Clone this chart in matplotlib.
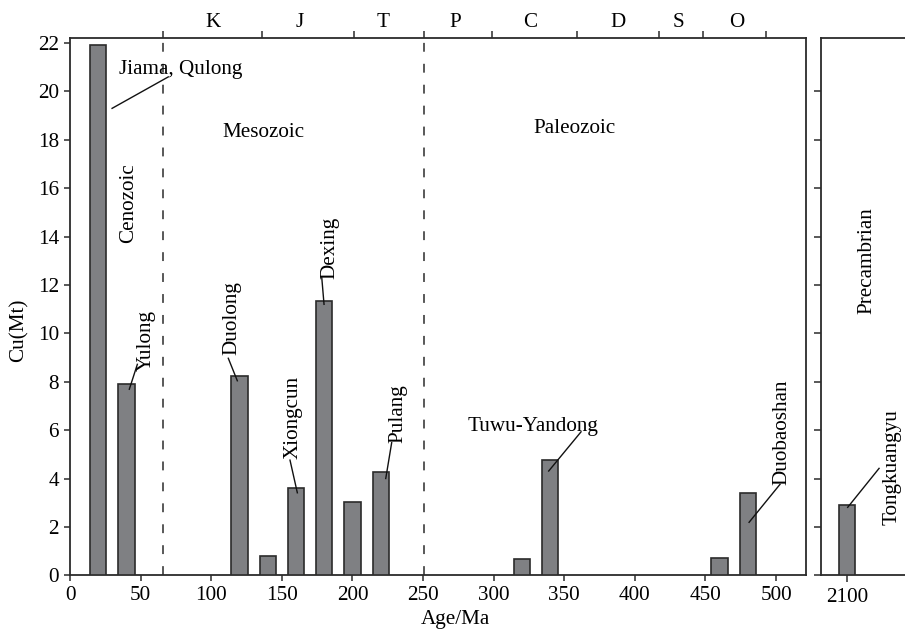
import matplotlib

matplotlib.use("Agg")
import matplotlib.pyplot as plt

plt.rcParams["font.family"] = ["Liberation Serif", "DejaVu Serif"]
plt.rcParams["font.size"] = 15.2

# Phanerozoic deposits: age (Ma) and copper tonnage (Mt)
AGES = [20, 40, 120, 140, 160, 180, 200, 220, 320, 340, 460, 480]
CU_MT = [21.9, 7.9, 8.25, 0.8, 3.6, 11.35, 3.04, 4.26, 0.67, 4.76, 0.70, 3.4]

# Precambrian deposit
PRE_AGES = [2100]
PRE_CU_MT = [2.92]

# geological period boundaries (Ma) and period letters
PERIOD_EDGES = [66, 136, 201, 251, 299, 359, 417, 448, 493]
PERIOD_NAMES = ["K", "J", "T", "P", "C", "D", "S", "O"]
PERIOD_MID = [101, 163, 222, 273, 326, 388, 431, 472]
ERA_BOUNDS = [66, 251]

BAR_COLOR = "#7f8083"
EDGE = "#2b2b2b"
WIDTH = 11.5

fig = plt.figure(figsize=(9.05, 6.3), dpi=100)
ax = fig.add_axes([70 / 905, 1 - 575.3 / 630, 735.7 / 905, 537.6 / 630])
ax2 = fig.add_axes([821 / 905, 1 - 575.3 / 630, 84.5 / 905, 537.6 / 630])

ax.bar(AGES, CU_MT, width=WIDTH, color=BAR_COLOR, edgecolor=EDGE, linewidth=1.2, zorder=3)
ax2.bar(PRE_AGES, PRE_CU_MT, width=WIDTH, color=BAR_COLOR, edgecolor=EDGE, linewidth=1.2, zorder=3)

ax.set_xlim(0, 521)
ax.set_ylim(0, 22.22)
ax.set_xticks(range(0, 501, 50))
ax.set_yticks(range(0, 23, 2))
ax.tick_params(direction="out", length=4, width=1.1, color=EDGE, pad=4)

for x in ERA_BOUNDS:
    ax.axvline(x, color=EDGE, lw=1.1, dashes=(5.8, 7.9), zorder=2)

# period ticks along the top
top = ax.secondary_xaxis("top")
top.set_xticks(PERIOD_EDGES)
top.set_xticklabels([])
top.tick_params(direction="out", length=5, width=1.1, color=EDGE)
top.spines["top"].set_visible(False)
for name, xm in zip(PERIOD_NAMES, PERIOD_MID):
    ax.text(xm, 1.0 + 15 / 537.6, name, transform=ax.get_xaxis_transform(),
            ha="center", va="center")

for sp in ax.spines.values():
    sp.set_color(EDGE)
    sp.set_linewidth(1.3)

ax.set_ylabel("Cu(Mt)")
ax.yaxis.set_label_coords(-0.0557, 0.456)
ax.set_xlabel("Age/Ma")
ax.xaxis.set_label_coords(0.524, -0.0645)

# era labels
ax.text(41.3, 15.4, "Cenozoic", rotation=90, ha="center", va="center")
ax.text(137, 18.3, "Mesozoic", ha="center", va="center")
ax.text(357, 18.47, "Paleozoic", ha="center", va="center")

# deposit labels with leader lines
labels = [
    ("Jiama, Qulong", 34.7, 20.9, 0, "left", (29.8, 19.3), (69.6, 20.6)),
    ("Yulong", 53.8, 9.7, 90, "center", (47.7, 8.72), (42, 7.69)),
    ("Duolong", 114.5, 10.62, 90, "center", (112.1, 8.97), (118.5, 8.04)),
    ("Xiongcun", 158.2, 6.51, 90, "center", (155.8, 4.76), (161, 3.41)),
    ("Dexing", 184, 13.53, 90, "center", (178.3, 12.3), (179.9, 11.2)),
    ("Pulang", 232.5, 6.69, 90, "center", (227.8, 5.48), (223.6, 4.0)),
    ("Tuwu-Yandong", 328, 6.17, 0, "center", (361.9, 5.93), (339, 4.31)),
    ("Duobaoshan", 504, 5.93, 90, "center", (502.8, 3.76), (480.9, 2.19)),
]
for text, tx, ty, rot, ha, p0, p1 in labels:
    ax.text(tx, ty, text, rotation=rot, ha=ha, va="center", zorder=4)
    ax.plot([p0[0], p1[0]], [p0[1], p1[1]], color="#111111", lw=1.0, zorder=5)

# Precambrian panel
ax2.set_xlim(2081.8, 2141.6)
ax2.set_ylim(0, 22.22)
ax2.set_xticks(PRE_AGES)
ax2.set_yticks(range(0, 21, 2))
ax2.set_yticklabels([])
ax2.tick_params(direction="out", length=5, width=1.1, color=EDGE, pad=4)
ax2.spines["right"].set_visible(False)
for sp in ("left", "top", "bottom"):
    ax2.spines[sp].set_color(EDGE)
    ax2.spines[sp].set_linewidth(1.3)
ax2.text(2114, 13.0, "Precambrian", rotation=90, ha="center", va="center")
ax2.text(2132.3, 4.49, "Tongkuangyu", rotation=90, ha="center", va="center")
ax2.plot([2122.9, 2100.7], [4.42, 2.81], color="#111111", lw=1.0, zorder=5)

fig.savefig("out.png", dpi=100)
